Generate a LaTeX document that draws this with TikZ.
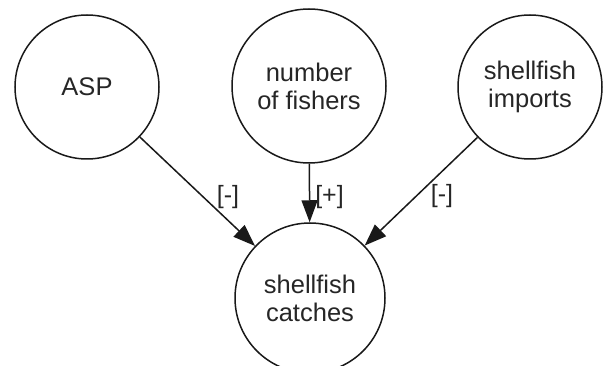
\documentclass[tikz,border=0pt]{standalone}
\usepackage{fontspec}
\setmainfont{Liberation Sans}
\usetikzlibrary{arrows.meta}
\begin{document}
\begin{tikzpicture}[x=1pt,y=-1pt,
  var/.style={circle,draw=black!90,line width=1.5pt,inner sep=0pt,align=center,
    font=\fontsize{25.5}{28}\selectfont,text=black!85},
  sign/.style={inner sep=0pt,font=\fontsize{25}{28}\selectfont,text=black!85},
  link/.style={line width=1.5pt,draw=black!90,-{Triangle[length=22pt,width=16pt]}}]
\useasboundingbox (0,0) rectangle (603,366);
\clip (0,0) rectangle (603,366);
\node[var,minimum size=144pt] (asp) at (87,87) {ASP};
\node[var,minimum size=154pt] (fish) at (309,86) {number\\of fishers};
\node[var,minimum size=144pt] (imp) at (530,87) {shellfish\\imports};
\node[var,minimum size=150pt] (catch) at (310,298) {shellfish\\catches};
\draw[link] (asp) -- (catch);
\draw[link] (fish) -- (catch);
\draw[link] (imp) -- (catch);
\node[sign] (s1) at (228,197) {[-]};
\node[sign] (s2) at (329.5,197) {[+]};
\node[sign] (s3) at (442,196) {[-]};
\end{tikzpicture}
\end{document}
